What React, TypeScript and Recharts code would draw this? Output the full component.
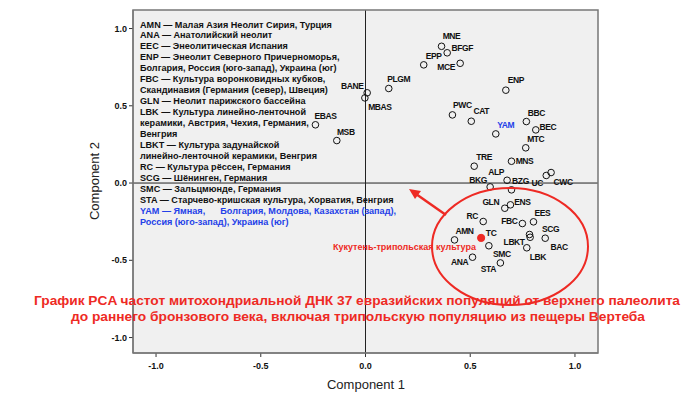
import React from 'react';
import { ScatterChart, Scatter, XAxis, YAxis, CartesianGrid, ReferenceLine } from 'recharts';

// population codes and their coordinates on the first two components
const names = [
  'BANE', 'MBAS', 'PLGM', 'EPP', 'MNE', 'BFGF', 'MCE', 'ENP', 'PWC', 'CAT',
  'YAM', 'BBC', 'BEC', 'MTC', 'TRE', 'MNS', 'ALP', 'BKG', 'BZG', 'UC',
  'CWC', 'EBAS', 'MSB', 'GLN', 'ENS', 'RC', 'FBC', 'EES', 'SCG', 'LBKT',
  'BAC', 'LBK', 'AMN', 'TC', 'SMC', 'ANA', 'STA',
];
const comp1 = [
  0.008, -0.003, 0.111, 0.278, 0.363, 0.39, 0.452, 0.67, 0.415, 0.505,
  0.622, 0.768, 0.813, 0.765, 0.519, 0.697, 0.676, 0.595, 0.697, 0.863,
  0.886, -0.239, -0.137, 0.665, 0.692, 0.562, 0.749, 0.802, 0.783, 0.786,
  0.858, 0.77, 0.425, 0.552, 0.589, 0.511, 0.644,
];
const comp2 = [
  0.584, 0.551, 0.612, 0.765, 0.885, 0.843, 0.775, 0.601, 0.441, 0.4,
  0.318, 0.398, 0.344, 0.228, 0.109, 0.141, 0.018, -0.025, -0.044, 0.049,
  0.068, 0.377, 0.275, -0.163, -0.141, -0.249, -0.262, -0.251, -0.333, -0.351,
  -0.357, -0.419, -0.368, -0.355, -0.406, -0.48, -0.517,
];
const xTicks = [-1, -0.5, 0, 0.5, 1];
const yTicks = [-1, -0.5, 0, 0.5, 1];

const legendLines = [
  'AMN — Малая Азия Неолит Сирия, Турция',
  'ANA — Анатолийский неолит',
  'EEC — Энеолитическая Испания',
  'ENP — Энеолит Северного Причерноморья,',
  'Болгария, Россия (юго-запад), Украина (юг)',
  'FBC — Культура воронковидных кубков,',
  'Скандинавия (Германия (север), Швеция)',
  'GLN — Неолит парижского бассейна',
  'LBK — Культура линейно-ленточной',
  'керамики, Австрия, Чехия, Германия,',
  'Венгрия',
  'LBKT — Культура задунайской',
  'линейно-ленточной керамики, Венгрия',
  'RC — Культура рёссен, Германия',
  'SCG — Шёнинген, Германия',
  'SMC — Зальцмюнде, Германия',
  'STA — Старчево-кришская культура, Хорватия, Венгрия',
];
const legendBlue = [
  'YAM — Ямная,      Болгария, Молдова, Казахстан (запад),',
  'Россия (юго-запад), Украина (юг)',
];

const data = names.map((name, i) => ({ name, x: comp1[i], y: comp2[i] }));

// where each code sits relative to its marker
const labelOffset: Record<string, [number, number]> = {
  BANE: [-15, -7], MBAS: [15, 9], PLGM: [10, -9], EPP: [10, -9], MNE: [10, -10],
  BFGF: [15, -5], MCE: [-14, 4], ENP: [10, -10], PWC: [10, -10], CAT: [10, -10],
  YAM: [10, -9], BBC: [10, -9], BEC: [12, -3], MTC: [10, -9], TRE: [10, -9],
  MNS: [13, 0], ALP: [-11, -8], BKG: [-12, -7], BZG: [9, -9], UC: [-9, 8],
  CWC: [12, 9], EBAS: [10, -9], MSB: [9, -9], GLN: [-14, -6], ENS: [12, -3],
  RC: [-11, -6], FBC: [-13, -3], EES: [9, -9], SCG: [21, -5], LBKT: [-16, 5],
  BAC: [14, 9], LBK: [11, 9], AMN: [10, -9], TC: [10, -5], SMC: [13, 8],
  ANA: [-13, 5], STA: [-12, 6],
};

const FONT = '"Liberation Sans", Arial, sans-serif';
const RED = '#ee2a24';
const BLUE = '#2340e8';

const renderPoint = (props: any) => {
  const { cx, cy, payload } = props;
  const [dx, dy] = labelOffset[payload.name] || [10, -9];
  const isTC = payload.name === 'TC';
  return (
    <g>
      {isTC ? (
        <circle cx={cx} cy={cy} r={3.6} fill={RED} stroke={RED} />
      ) : (
        <circle cx={cx} cy={cy} r={3.3} fill="none" stroke="#111" strokeWidth={1} />
      )}
      <text
        x={cx + dx}
        y={cy + dy}
        textAnchor="middle"
        dominantBaseline="central"
        fontSize={8.5}
        fontWeight="bold"
        letterSpacing={-0.4}
        fontFamily={FONT}
        fill={payload.name === 'YAM' ? BLUE : '#111'}
      >
        {payload.name}
      </text>
    </g>
  );
};

const fmt = (v: number) => v.toFixed(1);

export default function App() {
  return (
    <div style={{ position: 'absolute', left: 0, top: 0, width: 700, height: 393, background: '#fff' }}>
      <ScatterChart width={700} height={393} margin={{ top: 10, right: 102, bottom: 10, left: 93 }}>
        <CartesianGrid fill="#f0f0f0" horizontal={false} vertical={false} />
        <XAxis
          type="number"
          dataKey="x"
          domain={[-1.11, 1.11]}
          ticks={xTicks}
          tickFormatter={fmt}
          height={30}
          tickSize={4}
          tickMargin={6}
          allowDataOverflow
          axisLine={{ stroke: '#555' }}
          tickLine={{ stroke: '#333' }}
          tick={{ fontSize: 9, fontWeight: 'bold', fill: '#111', fontFamily: FONT }}
        />
        <YAxis
          type="number"
          dataKey="y"
          domain={[-1.1, 1.12]}
          ticks={yTicks}
          tickFormatter={fmt}
          width={40}
          tickSize={4}
          allowDataOverflow
          axisLine={{ stroke: '#555' }}
          tickLine={{ stroke: '#333' }}
          tick={{ fontSize: 9, fontWeight: 'bold', fill: '#111', fontFamily: FONT }}
        />
        <ReferenceLine x={0} stroke="#222" />
        <ReferenceLine y={0} stroke="#222" />
        <Scatter data={data} shape={renderPoint} isAnimationActive={false} />
      </ScatterChart>
      <svg
        width={700}
        height={393}
        style={{ position: 'absolute', left: 0, top: 0, pointerEvents: 'none' }}
        fontFamily={FONT}
      >
        <rect x={133} y={10} width={465} height={343} fill="none" stroke="#777" strokeWidth={1.5} />
        {legendLines.map((t, i) => (
          <text key={i} x={140} y={24.5 + i * 10.96} dominantBaseline="central" fontSize={9.1} fontWeight="bold" fill="#111">
            {t}
          </text>
        ))}
        {legendBlue.map((t, i) => (
          <text
            key={'b' + i}
            x={140}
            y={24.5 + (legendLines.length + i) * 10.96}
            dominantBaseline="central"
            fontSize={9.1}
            fontWeight="bold"
            fill={BLUE}
            style={{ whiteSpace: 'pre' }}
          >
            {t}
          </text>
        ))}
        <ellipse cx={510} cy={246.5} rx={78} ry={58.5} fill="none" stroke={RED} strokeWidth={2} />
        <line x1={446} y1={215} x2={416} y2={194} stroke={RED} strokeWidth={2.5} />
        <polygon points="409,189 421,191 415,199" fill={RED} />
        <text x={476} y={246.5} textAnchor="end" dominantBaseline="central" fontSize={9} fontWeight="bold" fill={RED}>
          Кукутень-трипольская культура
        </text>
        <text x={357} y={300} textAnchor="middle" dominantBaseline="central" fontSize={13} fontWeight="bold" fill={RED}
          textLength={646} lengthAdjust="spacingAndGlyphs">
          График PCA частот митохондриальной ДНК 37 евразийских популяций от верхнего палеолита
        </text>
        <text x={358} y={316.7} textAnchor="middle" dominantBaseline="central" fontSize={13} fontWeight="bold" fill={RED}
          textLength={574} lengthAdjust="spacingAndGlyphs">
          до раннего бронзового века, включая трипольскую популяцию из пещеры Вертеба
        </text>
        <text x={366} y={384} textAnchor="middle" dominantBaseline="central" fontSize={13} fill="#222">
          Component 1
        </text>
        <text x={94} y={181} textAnchor="middle" dominantBaseline="central" fontSize={13} fill="#222" transform="rotate(-90 94 181)">
          Component 2
        </text>
      </svg>
    </div>
  );
}
